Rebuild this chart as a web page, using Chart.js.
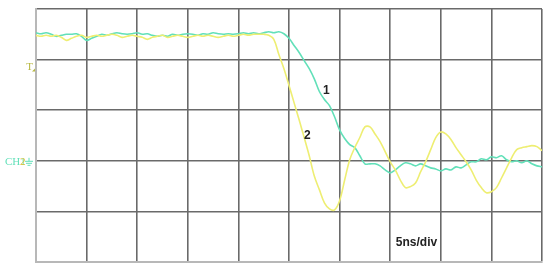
<!DOCTYPE html>
<html><head><meta charset="utf-8">
<script src="https://cdn.jsdelivr.net/npm/chart.js@4/dist/chart.umd.min.js"></script>
<style>html,body{margin:0;padding:0;background:#fff}#wrap{width:550px;height:270px}</style>
</head><body><div id="wrap"><canvas id="c" width="550" height="270"></canvas></div>
<script>
// time axis in ns (5 ns/div, 10 divisions), vertical in divisions (0..5)
const timeNs = [];
for (let i = 0; i <= 100; i++) timeNs.push(i * 0.5);

const ch1Teal = [
4.53,4.51,4.53,4.50,4.46,4.48,4.50,4.50,4.51,4.46,
4.38,4.42,4.46,4.50,4.48,4.51,4.53,4.51,4.50,4.51,
4.53,4.50,4.51,4.48,4.46,4.48,4.46,4.50,4.48,4.50,
4.51,4.50,4.48,4.51,4.50,4.53,4.51,4.50,4.51,4.50,
4.51,4.53,4.51,4.53,4.51,4.53,4.55,4.53,4.55,4.51,
4.42,4.28,4.14,3.98,3.82,3.62,3.37,3.21,3.09,2.87,
2.61,2.44,2.32,2.26,2.10,1.94,1.94,1.94,1.90,1.82,
1.76,1.82,1.90,1.96,1.94,1.90,1.94,1.90,1.86,1.84,
1.80,1.84,1.82,1.88,1.86,1.92,1.98,1.98,2.04,2.02,
2.08,2.06,2.10,2.02,1.98,2.00,1.96,2.00,1.94,1.90,
1.88];

const ch2Yellow = [
4.48,4.46,4.48,4.46,4.48,4.44,4.38,4.42,4.46,4.48,
4.44,4.46,4.48,4.46,4.48,4.50,4.48,4.44,4.46,4.48,
4.46,4.44,4.40,4.44,4.46,4.48,4.44,4.46,4.48,4.46,
4.44,4.46,4.48,4.46,4.48,4.46,4.44,4.46,4.48,4.46,
4.48,4.50,4.48,4.50,4.50,4.50,4.48,4.40,4.10,3.82,
3.49,3.15,2.81,2.46,2.10,1.70,1.43,1.17,1.05,1.03,
1.21,1.62,2.02,2.26,2.46,2.67,2.67,2.53,2.38,2.18,
1.98,1.82,1.62,1.47,1.49,1.56,1.78,1.98,2.22,2.46,
2.57,2.53,2.42,2.26,2.12,1.98,1.82,1.62,1.47,1.37,
1.39,1.47,1.66,1.86,2.06,2.22,2.26,2.28,2.30,2.28,
2.20];

const xTicks = [0,5,10,15,20,25,30,35,40,45,50];
const yTicks = [0,1,2,3,4,5];
const annotations = [
  {text: '1', t: 28.7, v: 3.39},
  {text: '2', t: 26.8, v: 2.50},
  {text: '5ns/div', t: 37.6, v: 0.38}
];

const tealColor = '#62e0b9';
const yellowColor = '#eeee72';

const labelPlugin = {
  id: 'labels',
  afterDatasetsDraw(chart) {
    const ctx = chart.ctx, xs = chart.scales.x, ys = chart.scales.y;
    ctx.save();
    ctx.fillStyle = '#222';
    ctx.font = 'bold 12px "Liberation Sans", Arial, sans-serif';
    ctx.textAlign = 'center';
    ctx.textBaseline = 'middle';
    annotations.forEach(a => ctx.fillText(a.text, xs.getPixelForValue(a.t), ys.getPixelForValue(a.v)));
    // channel markers on the left
    const left = chart.chartArea.left;
    const y4 = ys.getPixelForValue(4), y2 = ys.getPixelForValue(2);
    ctx.font = '11px "Liberation Serif", serif';
    ctx.textAlign = 'right';
    ctx.fillStyle = '#b8b840';
    ctx.fillText('T', left - 3, y4 + 8);
    ctx.beginPath();
    ctx.moveTo(left - 4, y4 + 12); ctx.lineTo(left - 1, y4 + 12); ctx.lineTo(left - 1, y4 + 9);
    ctx.closePath(); ctx.fill();
    ctx.fillStyle = tealColor;
    ctx.font = '11px "Liberation Serif", serif';
    ctx.textAlign = 'left';
    ctx.fillText('CH1', 5, y2 + 1);
    ctx.fillStyle = '#e0c030';
    ctx.fillText('2', 20, y2 + 1);
    ctx.strokeStyle = tealColor; ctx.lineWidth = 1;
    const gx = left - 7;
    ctx.beginPath();
    ctx.moveTo(gx - 4, y2 + 0.5); ctx.lineTo(gx + 4, y2 + 0.5);
    ctx.moveTo(gx - 3, y2 + 2.5); ctx.lineTo(gx + 3, y2 + 2.5);
    ctx.moveTo(gx - 1.5, y2 + 4.5); ctx.lineTo(gx + 1.5, y2 + 4.5);
    ctx.moveTo(gx, y2 - 3); ctx.lineTo(gx, y2 + 0.5);
    ctx.stroke();
    ctx.restore();
  }
};

new Chart(document.getElementById('c'), {
  type: 'line',
  data: {
    labels: timeNs,
    datasets: [
      {label: 'CH2', data: ch2Yellow, borderColor: yellowColor, borderWidth: 1.6, pointRadius: 0, tension: 0.35},
      {label: 'CH1', data: ch1Teal, borderColor: tealColor, borderWidth: 1.6, pointRadius: 0, tension: 0.35}
    ]
  },
  options: {
    responsive: false,
    animation: false,
    events: [],
    layout: {padding: {left: 36, right: 8, top: 9, bottom: 8}},
    plugins: {legend: {display: false}, tooltip: {enabled: false}},
    scales: {
      x: {
        type: 'linear', min: 0, max: 50,
        afterBuildTicks: s => { s.ticks = xTicks.map(v => ({value: v})); },
        ticks: {display: false},
        grid: {color: '#6a6a6a', lineWidth: 1.6, drawTicks: false},
        border: {color: '#b8b8b8', width: 2}
      },
      y: {
        type: 'linear', min: 0, max: 5,
        afterBuildTicks: s => { s.ticks = yTicks.map(v => ({value: v})); },
        ticks: {display: false},
        grid: {color: '#6a6a6a', lineWidth: 1.6, drawTicks: false},
        border: {color: '#b8b8b8', width: 2}
      }
    }
  },
  plugins: [labelPlugin]
});
</script>
</body></html>
